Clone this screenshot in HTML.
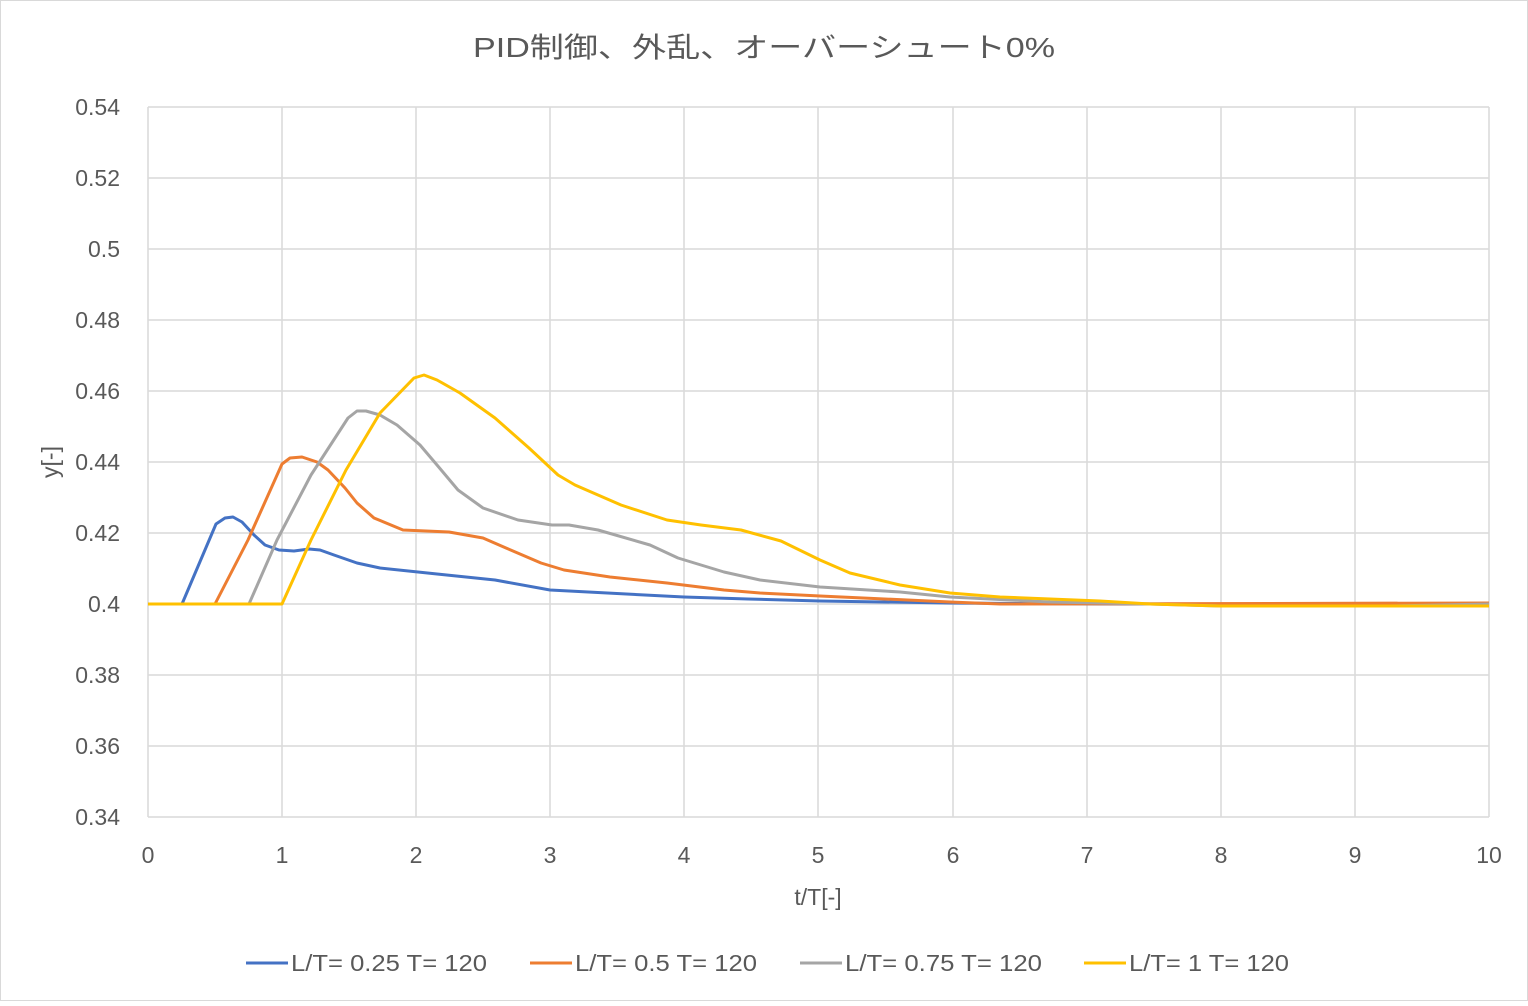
<!DOCTYPE html><html><head><meta charset="utf-8"><style>body{margin:0;background:#fff}</style></head><body>
<svg width="1528" height="1001" xmlns="http://www.w3.org/2000/svg" font-family="Liberation Sans, Noto Sans CJK JP, sans-serif">
<rect x="0.5" y="0.5" width="1527" height="1000" fill="#fff" stroke="#d9d9d9"/>
<text x="473" y="57" font-size="28" fill="#595959" textLength="582" lengthAdjust="spacingAndGlyphs">PID制御、外乱、オーバーシュート0%</text>
<g stroke="#d9d9d9" stroke-width="1.5">
<line x1="148" y1="107" x2="1489" y2="107"/><line x1="148" y1="178" x2="1489" y2="178"/><line x1="148" y1="249" x2="1489" y2="249"/><line x1="148" y1="320" x2="1489" y2="320"/><line x1="148" y1="391" x2="1489" y2="391"/><line x1="148" y1="462" x2="1489" y2="462"/><line x1="148" y1="533" x2="1489" y2="533"/><line x1="148" y1="604" x2="1489" y2="604"/><line x1="148" y1="675" x2="1489" y2="675"/><line x1="148" y1="746" x2="1489" y2="746"/><line x1="148" y1="817" x2="1489" y2="817"/>
<line x1="148" y1="107" x2="148" y2="817"/><line x1="282" y1="107" x2="282" y2="817"/><line x1="416" y1="107" x2="416" y2="817"/><line x1="550" y1="107" x2="550" y2="817"/><line x1="684" y1="107" x2="684" y2="817"/><line x1="818" y1="107" x2="818" y2="817"/><line x1="953" y1="107" x2="953" y2="817"/><line x1="1087" y1="107" x2="1087" y2="817"/><line x1="1221" y1="107" x2="1221" y2="817"/><line x1="1355" y1="107" x2="1355" y2="817"/><line x1="1489" y1="107" x2="1489" y2="817"/>
</g>
<g font-size="23" fill="#595959" text-anchor="end">
<text x="120" y="115">0.54</text><text x="120" y="186">0.52</text><text x="120" y="257">0.5</text><text x="120" y="328">0.48</text><text x="120" y="399">0.46</text><text x="120" y="470">0.44</text><text x="120" y="541">0.42</text><text x="120" y="612">0.4</text><text x="120" y="683">0.38</text><text x="120" y="754">0.36</text><text x="120" y="825">0.34</text>
</g>
<g font-size="23" fill="#595959" text-anchor="middle">
<text x="148" y="863">0</text><text x="282" y="863">1</text><text x="416" y="863">2</text><text x="550" y="863">3</text><text x="684" y="863">4</text><text x="818" y="863">5</text><text x="953" y="863">6</text><text x="1087" y="863">7</text><text x="1221" y="863">8</text><text x="1355" y="863">9</text><text x="1489" y="863">10</text>
<text x="818" y="905">t/T[-]</text>
<text transform="translate(58,462) rotate(-90)">y[-]</text>
</g>
<g fill="none" stroke-width="3" stroke-linejoin="round">
<polyline stroke="#4472c4" points="148,604 182,604 216,524 225,518 233,517 242,522 254,535 265,545 279,550 294,551 309,549 320,550 334,555 357,563 380,568 437,574 495,580 550,590 684,597 748,599 820,601 950,603 1100,604 1489,604"/>
<polyline stroke="#ed7d31" points="148,604 215,604 248,540 282,464 290,458 302,457 317,462 328,470 345,488 357,503 374,518 403,530 426,531 449,532 483,538 506,548 541,563 564,570 610,577 667,583 724,590 760,593 820,596 950,602 1000,604 1489,603"/>
<polyline stroke="#a5a5a5" points="148,604 249,604 277,540 311,475 348,418 357,411 366,411 380,415 397,425 420,445 437,465 458,490 483,508 518,520 552,525 569,525 598,530 650,545 678,558 724,572 760,580 820,587 900,592 950,597 1050,602 1150,604 1220,606 1390,606 1489,604"/>
<polyline stroke="#ffc000" points="148,604 282,604 311,540 346,470 380,413 414,378 424,375 437,380 460,393 495,418 529,448 558,475 575,485 621,505 667,520 701,525 741,530 781,541 820,560 850,573 900,585 950,593 1000,597 1100,601 1150,604 1220,606 1489,606"/>
</g>
<g font-size="23" fill="#595959">
<line x1="246" y1="963" x2="288" y2="963" stroke="#4472c4" stroke-width="3"/><text x="291" y="971" textLength="196" lengthAdjust="spacingAndGlyphs">L/T= 0.25 T= 120</text>
<line x1="530" y1="963" x2="572" y2="963" stroke="#ed7d31" stroke-width="3"/><text x="575" y="971" textLength="182" lengthAdjust="spacingAndGlyphs">L/T= 0.5 T= 120</text>
<line x1="800" y1="963" x2="842" y2="963" stroke="#a5a5a5" stroke-width="3"/><text x="845" y="971" textLength="197" lengthAdjust="spacingAndGlyphs">L/T= 0.75 T= 120</text>
<line x1="1084" y1="963" x2="1126" y2="963" stroke="#ffc000" stroke-width="3"/><text x="1129" y="971" textLength="160" lengthAdjust="spacingAndGlyphs">L/T= 1 T= 120</text>
</g>
</svg></body></html>
